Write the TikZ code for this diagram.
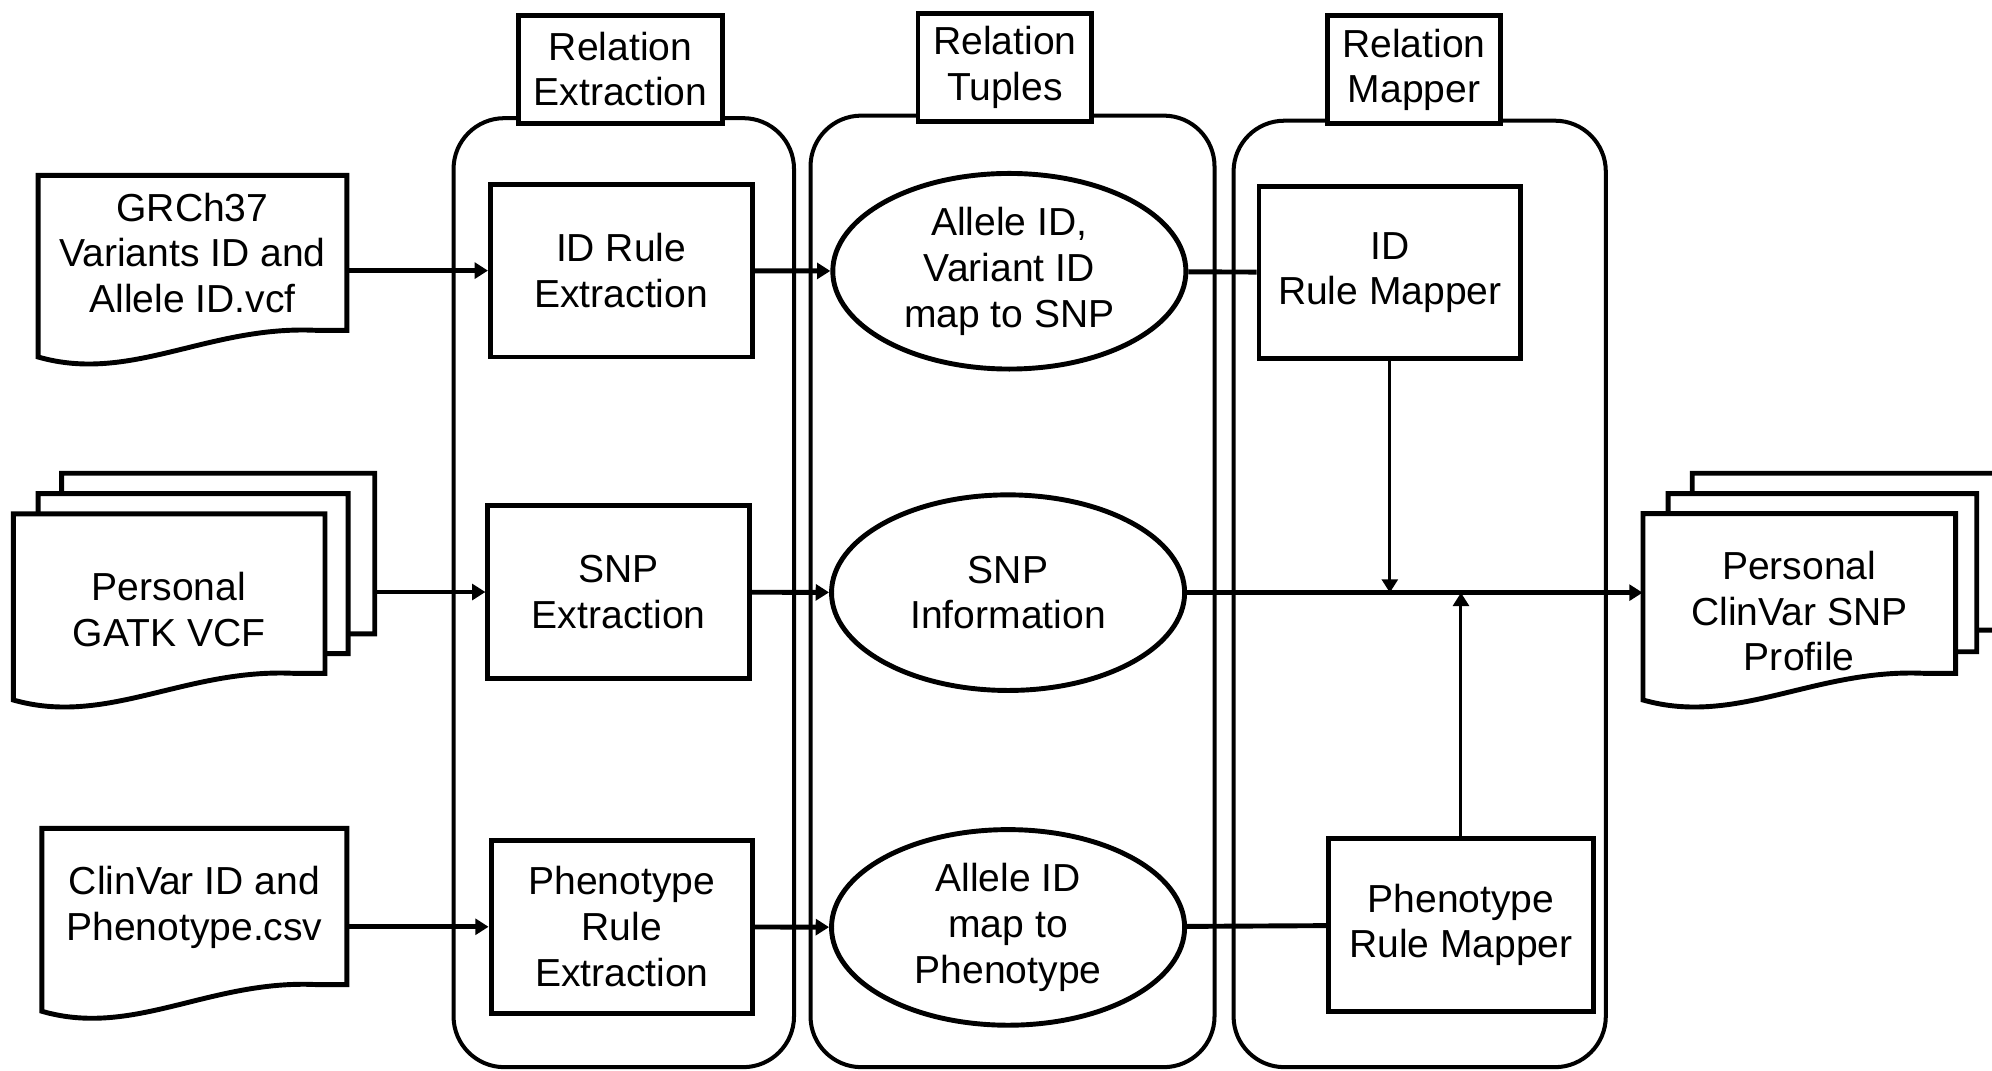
\documentclass[tikz,border=0pt]{standalone}
\usepackage{fontspec}
\setmainfont{Liberation Sans}
\usetikzlibrary{arrows.meta,shapes.geometric}

\newcommand{\docsheet}[4]{%
  \draw[sheet] (#1,#2) -- (#3,#2) -- (#3,#4) -- ({#3-0.1*(#3-#1)},#4)
    .. controls ({#1+0.55*(#3-#1)},{#4-4}) and ({#1+0.3*(#3-#1)},{#4+42}) .. (#1,{#4+21}) -- cycle;}

\begin{document}
\begin{tikzpicture}[x=0.02cm,y=-0.02cm,
  every node/.style={font=\fontsize{17.5}{20.5}\selectfont},
  lane/.style={draw,line width=1.8pt,rounded corners=0.8cm},
  lanetitle/.style={draw,fill=white,line width=2.2pt,align=center,inner xsep=0.24cm,minimum height=1.7cm},
  stepbox/.style={draw,fill=white,line width=2.2pt,align=center,minimum width=4.12cm,minimum height=2.72cm},
  tuple/.style={draw,ellipse,line width=2.2pt,align=center,inner sep=0pt,minimum width=5.56cm,minimum height=3.08cm},
  sheet/.style={draw,fill=white,line width=2.2pt},
  doctext/.style={align=center,inner sep=0pt},
  arr/.style={line width=2.2pt,-{Triangle[length=0.21cm,width=0.25cm]}},
  thinarr/.style={line width=1.35pt,-{Triangle[length=0.21cm,width=0.25cm]}},
  link/.style={line width=2.2pt}]
	\useasboundingbox (0,0) rectangle (1568,843);
	
	\draw[lane] (357,93) rectangle (625,840);
	\draw[lane] (638,91) rectangle (956,840);
	\draw[lane] (971,95) rectangle (1264,840);
	
	\node[lanetitle] (extrtitle) at (488.5,54.4) {Relation\\Extraction};
	\node[lanetitle] (tupletitle) at (791,53) {Relation\\Tuples};
	\node[lanetitle] (maptitle) at (1113,55) {Relation\\Mapper};
	
	\node[stepbox] (idext) at (489,213) {ID Rule\\Extraction};
	\node[stepbox] (snpext) at (487,466) {SNP\\Extraction};
	\node[stepbox] (phext) at (489.5,729.5) {Phenotype\\Rule\\Extraction};
	
	\node[tuple] (idtuple) at (794.5,213.5) {Allele ID,\\Variant ID\\map to SNP};
	\node[tuple] (snpinfo) at (793.5,466.5) {SNP\\Information};
	\node[tuple] (phtuple) at (793.5,730) {Allele ID\\map to\\Phenotype};
	
	\node[stepbox] (idmap) at (1094,214.5) {ID\\Rule Mapper};
	\node[stepbox,minimum width=4.16cm] (phmap) at (1150,728) {Phenotype\\Rule Mapper};
	
	\docsheet{30}{138}{273}{260}
	\docsheet{48.5}{372.5}{295}{499}
	\docsheet{30}{388.5}{274}{514.5}
	\docsheet{10.5}{404.5}{255.8}{530}
	\docsheet{33}{652}{273}{775}
	\docsheet{1332}{372.5}{1577}{496}
	\docsheet{1313}{388.5}{1556}{513}
	\docsheet{1293.3}{404.3}{1539.3}{530}
	
	\node[doctext,minimum width=4.86cm] (grch) at (151.5,199) {GRCh37\\Variants ID and\\Allele ID.vcf};
	\node[doctext] (gatk) at (133,480) {Personal\\GATK VCF};
	\node[doctext,minimum width=4.8cm] (clinvar) at (153,714) {ClinVar ID and\\Phenotype.csv};
	\node[doctext,minimum width=4.92cm] (profile) at (1416.3,481) {Personal\\ClinVar SNP\\Profile};
	\coordinate (gatkedge) at (295,466);
	
	\draw[arr] (grch.east |- idext) -- (idext);
	\draw[arr] (gatkedge) -- (snpext);
	\draw[arr] (clinvar.east |- phext) -- (phext);
	\draw[arr] (idext) -- (idtuple);
	\draw[arr] (snpext) -- (snpinfo);
	\draw[arr] (phext) -- (phtuple);
	\draw[link] (idtuple) -- (idmap);
	\draw[link] (phtuple) -- (phmap);
	\draw[arr] (snpinfo.east) -- (snpinfo.east -| profile.west);
	\draw[thinarr] (idmap.south) -- (idmap.south |- snpinfo.east);
	\draw[thinarr] (phmap.north) -- (phmap.north |- snpinfo.east);
\end{tikzpicture}
\end{document}
